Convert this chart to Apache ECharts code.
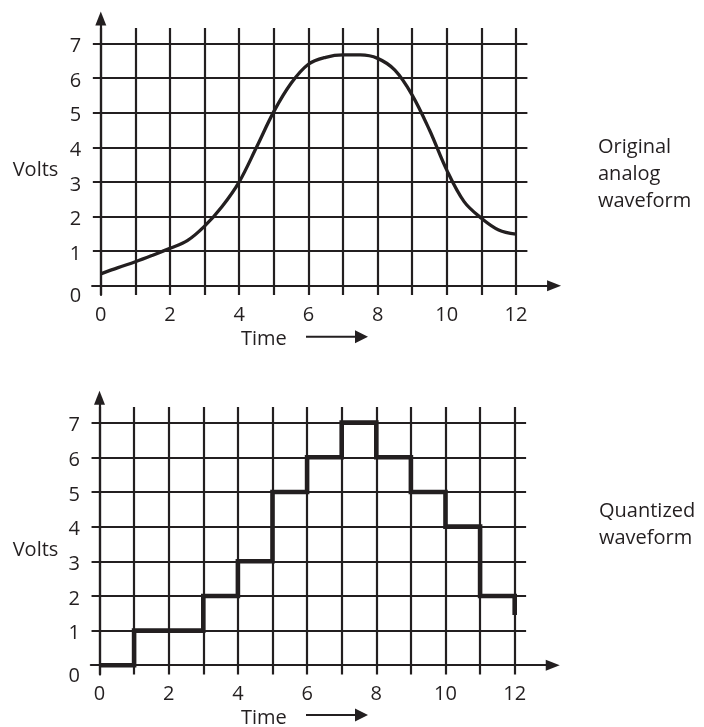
<!DOCTYPE html>
<html>
<head>
<meta charset="utf-8">
<script src="https://cdn.jsdelivr.net/npm/echarts@6/dist/echarts.min.js"></script>
<style>
  html, body { margin: 0; background: #fff; }
  #chart { width: 704px; height: 727px; }
</style>
</head>
<body>
<div id="chart"></div>
<script>
// analog waveform, read every half unit of time
const analogTime = [0, 0.5, 1, 1.5, 2, 2.5, 3, 3.5, 4, 4.5, 5, 5.5, 6, 6.5, 7, 7.5, 8, 8.5, 9, 9.5, 10, 10.5, 11, 11.5, 12]
const analogVolts = [0.34, 0.52, 0.69, 0.88, 1.08, 1.3, 1.72, 2.28, 3.0, 4.0, 5.03, 5.85, 6.4, 6.6, 6.67, 6.67, 6.57, 6.23, 5.51, 4.5, 3.34, 2.43, 1.95, 1.61, 1.49]

// quantized levels, each held until the next time
const quantTime = [0, 1, 3, 4, 5, 6, 7, 8, 9, 10, 11, 12]
const quantVolts = [0, 1, 2, 3, 5, 6, 7, 6, 5, 4, 2, 1.45]

const gridX = [0, 1, 2, 3, 4, 5, 6, 7, 8, 9, 10, 11, 12]
const gridY = [0, 1, 2, 3, 4, 5, 6, 7]
const xLabels = [0, 2, 4, 6, 8, 10, 12]
const yLabels = [0, 1, 2, 3, 4, 5, 6, 7]

const INK = '#231f20'
const FONT = '"Open Sans", "DejaVu Sans", sans-serif'

const chart = echarts.init(document.getElementById('chart'), null, { renderer: 'canvas' })

// grid lines run a little past the last ticks, like the drawing
function gridLines() {
  const lines = []
  gridX.forEach(t => lines.push([{ coord: [t, -0.27] }, { coord: [t, 7.45] }]))
  gridY.forEach(v => lines.push([{ coord: [-0.23, v] }, { coord: [12.33, v] }]))
  return lines
}

function makeX(gridIndex) {
  return {
    gridIndex: gridIndex,
    type: 'value',
    min: -0.25,
    max: 13.1,
    axisLine: {
      onZero: true,
      symbol: ['none', 'triangle'],
      symbolSize: [11, 14],
      lineStyle: { color: INK, width: 2.2 }
    },
    axisTick: { show: false },
    splitLine: { show: false },
    axisLabel: {
      customValues: xLabels,
      margin: 10,
      color: INK,
      fontSize: 20,
      fontFamily: FONT
    }
  }
}

function makeY(gridIndex) {
  return {
    gridIndex: gridIndex,
    type: 'value',
    min: -0.27,
    max: 7.72,
    axisLine: {
      onZero: true,
      symbol: ['none', 'triangle'],
      symbolSize: [11, 14],
      lineStyle: { color: INK, width: 2.2 }
    },
    axisTick: { show: false },
    splitLine: { show: false },
    axisLabel: {
      customValues: yLabels,
      margin: 11,
      color: INK,
      fontSize: 20,
      fontFamily: FONT,
      formatter: v => (v === 0 ? '{z|0}' : '{n|' + v + '}'),
      rich: {
        n: { fontSize: 20, fontFamily: FONT, color: INK, padding: [6, 0, 0, 0] },
        z: { fontSize: 20, fontFamily: FONT, color: INK, padding: [22, 0, 0, 0] }
      }
    }
  }
}

function gridSeries(idx) {
  return {
    type: 'line',
    xAxisIndex: idx,
    yAxisIndex: idx,
    data: [],
    silent: true,
    z: 1,
    markLine: {
      silent: true,
      symbol: ['none', 'none'],
      label: { show: false },
      lineStyle: { color: INK, width: 2.2, type: 'solid' },
      emphasis: { disabled: true },
      data: gridLines()
    }
  }
}

function caption(x, y, text) {
  return {
    type: 'text',
    x: x,
    y: y,
    style: {
      text: text,
      fill: INK,
      fontSize: 20,
      fontFamily: FONT,
      lineHeight: 27,
      verticalAlign: 'middle'
    }
  }
}

function timeArrow(y) {
  return [
    { type: 'line', shape: { x1: 306, y1: y, x2: 357, y2: y }, style: { stroke: INK, lineWidth: 2 } },
    { type: 'polygon', shape: { points: [[355, y - 6.5], [368, y], [355, y + 6.5]] }, style: { fill: INK } }
  ]
}

const option = {
  animation: false,
  grid: [
    { left: 92.15, top: 18.6, width: 461.9, height: 276.4 },
    { left: 90.85, top: 397.7, width: 461.9, height: 276.9 }
  ],
  xAxis: [makeX(0), makeX(1)],
  yAxis: [makeY(0), makeY(1)],
  series: [
    gridSeries(0),
    gridSeries(1),
    {
      name: 'Original analog waveform',
      type: 'line',
      xAxisIndex: 0,
      yAxisIndex: 0,
      data: analogTime.map((t, i) => [t, analogVolts[i]]),
      smooth: 0.35,
      showSymbol: false,
      z: 3,
      lineStyle: { color: INK, width: 3.3 }
    },
    {
      name: 'Quantized waveform',
      type: 'line',
      xAxisIndex: 1,
      yAxisIndex: 1,
      data: quantTime.map((t, i) => [t, quantVolts[i]]),
      step: 'end',
      showSymbol: false,
      z: 3,
      lineStyle: { color: INK, width: 4.6, cap: 'butt', join: 'miter' }
    }
  ],
  graphic: [
    caption(12.7, 170.5, 'Volts'),
    caption(12.7, 550, 'Volts'),
    caption(241, 339.5, 'Time'),
    caption(241, 718, 'Time'),
    ...timeArrow(336.7),
    ...timeArrow(715),
    caption(598, 174, 'Original\nanalog\nwaveform'),
    caption(599, 525, 'Quantized\nwaveform')
  ]
}

chart.setOption(option)
</script>
</body>
</html>
